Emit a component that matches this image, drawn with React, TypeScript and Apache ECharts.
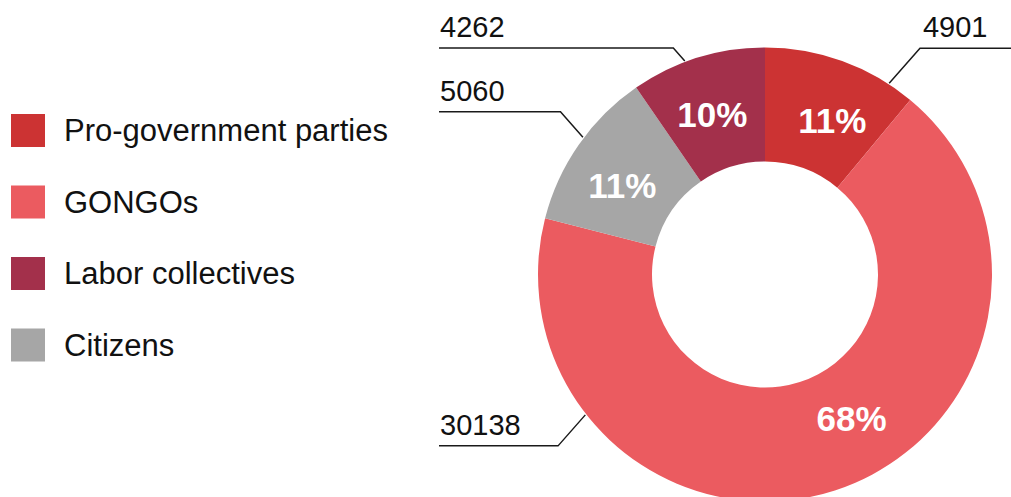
import React, { useEffect, useRef } from "react";
import * as echarts from "echarts";

// ---- data ----
const categories = ["Pro-government parties", "GONGOs", "Citizens", "Labor collectives"];
const values = [4901, 30138, 5060, 4262];
const legendOrder = ["Pro-government parties", "GONGOs", "Labor collectives", "Citizens"];
const colors = ["#CC3333", "#EB5B60", "#A6A6A6", "#A3304B"];

// ---- layout (label placement, degrees clockwise from 12 o'clock) ----
const CX = 765;
const CY = 274.5;
const R0 = 113;
const R1 = 227;
const valueLabelAngles = [33, 232, 307, 339.4];
const valueLabelRise = [-35, 31, -25.5, -13];
const pctLabelAngles = [23.6, 149, 301.9, 341.7];
const LEFT_EDGE = 439;

const FONT = "'Liberation Sans', Arial, Helvetica, sans-serif";

export default function App() {
  const ref = useRef<HTMLDivElement>(null);

  useEffect(() => {
    if (!ref.current) return;
    const chart = echarts.init(ref.current, undefined, { renderer: "svg" });
    const W = chart.getWidth();
    const data = categories.map((name, i) => ({
      name,
      value: values[i],
      itemStyle: { color: colors[i] },
    }));

    const option: any = {
      animation: false,
      backgroundColor: "#ffffff",
      legend: {
        orient: "vertical",
        left: 11,
        top: 114,
        padding: 0,
        data: legendOrder,
        icon: "rect",
        itemWidth: 34,
        itemHeight: 33,
        itemGap: 38.5,
        selectedMode: false,
        textStyle: {
          fontSize: 31,
          color: "#111111",
          fontFamily: FONT,
          padding: [0, 0, 0, 14],
        },
      },
      series: [
        {
          type: "pie",
          center: [CX, CY],
          radius: [R0, R1],
          startAngle: 90,
          clockwise: true,
          avoidLabelOverlap: false,
          silent: true,
          itemStyle: { borderWidth: 0 },
          data,
          label: {
            show: true,
            position: "inside",
            formatter: (p: any) => Math.round(p.percent) + "%",
            color: "#ffffff",
            fontSize: 35,
            fontWeight: "bold",
            fontFamily: FONT,
          },
          labelLine: { show: false },
          labelLayout: (params: any) => {
            const a = (pctLabelAngles[params.dataIndex] * Math.PI) / 180;
            const r = (R0 + R1) / 2 - 2;
            return {
              x: CX + r * Math.sin(a),
              y: CY - r * Math.cos(a),
              align: "center",
              verticalAlign: "middle",
            };
          },
        },
        {
          type: "pie",
          center: [CX, CY],
          radius: [R0, R1],
          startAngle: 90,
          clockwise: true,
          avoidLabelOverlap: false,
          silent: true,
          itemStyle: { color: "rgba(0,0,0,0)", borderWidth: 0 },
          data: categories.map((name, i) => ({ name, value: values[i] })),
          label: {
            show: true,
            position: "outside",
            formatter: "{c}",
            color: "#111111",
            fontSize: 29,
            fontFamily: FONT,
          },
          labelLine: {
            show: true,
            length: 10,
            length2: 10,
            lineStyle: { color: "#1a1a1a", width: 1.5 },
          },
          labelLayout: (params: any) => {
            const i = params.dataIndex;
            const deg = valueLabelAngles[i];
            const a = (deg * Math.PI) / 180;
            const ax = CX + (R1 + 1) * Math.sin(a);
            const ay = CY - (R1 + 1) * Math.cos(a);
            const right = deg < 180;
            const rise = valueLabelRise[i];
            const ey = ay + rise;
            const ex = ax + (right ? 1 : -1) * Math.abs(rise) * 0.88;
            const endX = right ? W : LEFT_EDGE;
            return {
              x: right ? ex + 3 : LEFT_EDGE + 1,
              y: ey - 21,
              align: "left",
              verticalAlign: "middle",
              labelLinePoints: [
                [ax, ay],
                [ex, ey],
                [endX, ey],
              ],
            };
          },
        },
      ],
    };
    chart.setOption(option);
    return () => chart.dispose();
  }, []);

  return (
    <div
      ref={ref}
      style={{ position: "absolute", left: 0, top: 0, width: 1011, height: 497 }}
    />
  );
}
